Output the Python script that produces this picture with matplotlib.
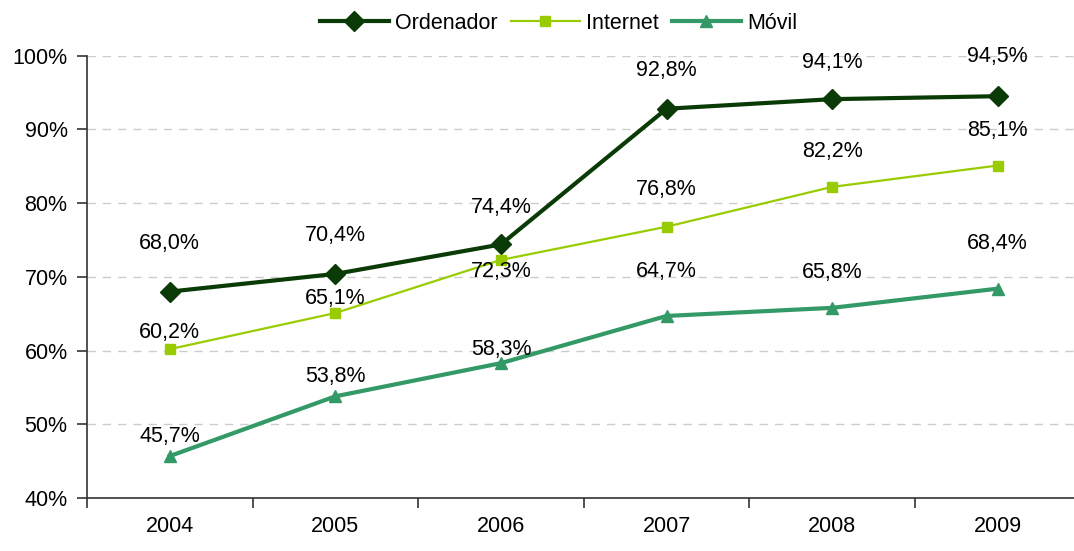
import matplotlib.pyplot as plt
from matplotlib import font_manager

# datos
anios = ["2004", "2005", "2006", "2007", "2008", "2009"]
ordenador = [68.0, 70.4, 74.4, 92.8, 94.1, 94.5]
internet = [60.2, 65.1, 72.3, 76.8, 82.2, 85.1]
movil = [45.7, 53.8, 58.3, 64.7, 65.8, 68.4]

# desplazamiento vertical de las etiquetas (pixeles)
off_ord = [48, 38, 37, 38, 37, 40]
off_int = [17, 15, -12, 37, 35, 35]
off_mov = [20, 20, 14, 44, 35, 45]

nombres = [f.name for f in font_manager.fontManager.ttflist]
if "Liberation Sans Narrow" in nombres:
    plt.rcParams["font.family"] = ["Liberation Sans Narrow", "DejaVu Sans"]
    fs = 17
else:
    plt.rcParams["font.family"] = ["Liberation Sans", "DejaVu Sans"]
    fs = 15.5

fig = plt.figure(figsize=(10.74, 5.51), dpi=100)
ax = fig.add_axes([0.081, 0.096, 0.925, 0.803])

x = list(range(len(anios)))
c_ord = "#0a3a05"
c_int = "#99cc00"
c_mov = "#339966"

ax.plot(x, ordenador, color=c_ord, lw=3, marker="D", ms=10, label="Ordenador")
ax.plot(x, internet, color=c_int, lw=1.6, marker="s", ms=7, label="Internet")
ax.plot(x, movil, color=c_mov, lw=3, marker="^", ms=9, label="Móvil")

def etiquetas(vals, offs):
    for i, (v, o) in enumerate(zip(vals, offs)):
        ax.annotate(f"{v:.1f}%".replace(".", ","), (i, v), xytext=(0, o * 0.72),
                    textcoords="offset points", ha="center", va="center", fontsize=fs)

etiquetas(ordenador, off_ord)
etiquetas(internet, off_int)
etiquetas(movil, off_mov)

ax.set_xlim(-0.5, 5.5)
ax.set_ylim(40, 100)
ax.set_yticks(range(40, 101, 10))
ax.set_yticklabels([f"{v}%" for v in range(40, 101, 10)], fontsize=fs)
ax.set_xticks(x)
ax.set_xticklabels(anios, fontsize=fs)
ax.set_xticks([i - 0.5 for i in range(len(anios) + 1)], minor=True)
ax.tick_params(axis="x", which="major", length=0, pad=13)
ax.tick_params(axis="x", which="minor", length=7, width=1.2, color="#333333")
ax.tick_params(axis="y", length=7, width=1.2, color="#333333", pad=7)

for y in range(50, 101, 10):
    ax.axhline(y, color="#cccccc", lw=1, ls=(0, (6, 5)), zorder=0)

for s in ["top", "right"]:
    ax.spines[s].set_visible(False)
ax.spines["left"].set_color("#333333")
ax.spines["bottom"].set_color("#333333")
ax.spines["left"].set_linewidth(1.2)
ax.spines["bottom"].set_linewidth(1.2)

fig.legend(loc="upper center", bbox_to_anchor=(0.52, 1.012), ncol=3, frameon=False,
           fontsize=fs, handlelength=3.2, columnspacing=0.6, handletextpad=0.3)

fig.savefig("out.png", dpi=100)
